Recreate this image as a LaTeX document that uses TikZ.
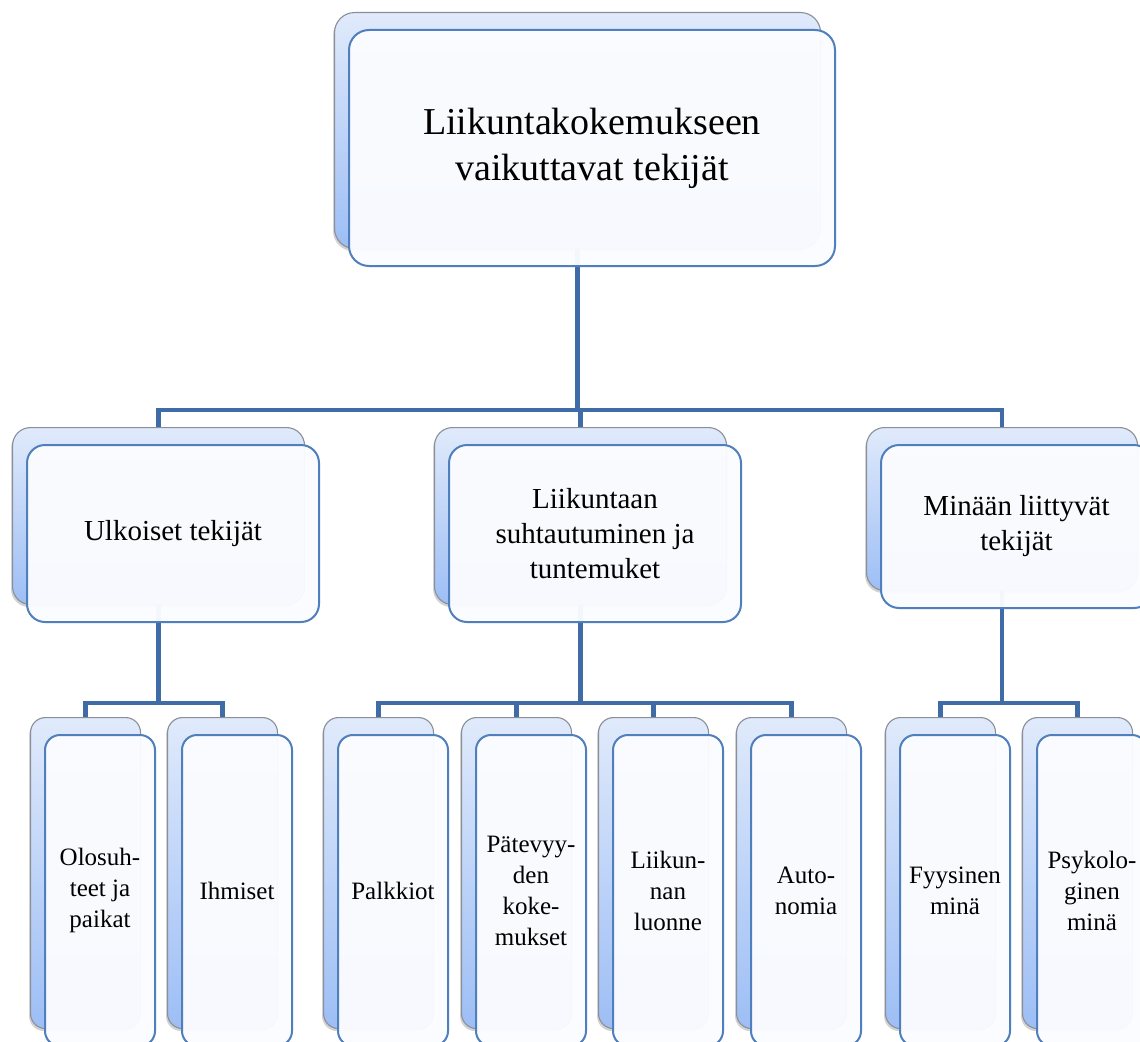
\documentclass[tikz,border=0pt]{standalone}
\usepackage{fontspec}
\setmainfont{Liberation Serif}
\usetikzlibrary{calc,shadows,backgrounds}

\definecolor{backtop}{HTML}{E0EAFB}
\definecolor{backbot}{HTML}{9DBEF5}
\definecolor{backline}{HTML}{8A8F98}
\definecolor{frontline}{HTML}{4F7FBC}
\definecolor{frontfill}{HTML}{FBFCFF}
\definecolor{connline}{HTML}{3F6CA6}

\tikzset{
  backbox/.style={draw=backline, line width=1.1pt, top color=backtop,
    bottom color=backbot, anchor=north west, inner sep=0pt,
    drop shadow={shadow xshift=-1.5pt, shadow yshift=-2.5pt, opacity=0.35}},
  frontbox/.style={draw=frontline, line width=2pt, fill=frontfill,
    fill opacity=0.96, text opacity=1, anchor=north west, align=center,
    inner sep=0pt},
  connector/.style={draw=connline, line width=4.4pt},
}

% name, x, y (top left of the back card), width, height, corner radius, font, text
\newcommand{\cardpair}[8]{%
  \node[backbox, rounded corners=#6, minimum width=#4, minimum height=#5] (#1-b) at (#2,#3) {};
  \node[frontbox, rounded corners=#6, minimum width=#4, minimum height=#5, font=#7]
    (#1) at ($(#1-b.north west)+(14,17)$) {#8};
}

\newcommand{\fnttop}{\fontsize{38}{46}\selectfont}
\newcommand{\fntmid}{\fontsize{29}{35}\selectfont}
\newcommand{\fntlow}{\fontsize{25}{31}\selectfont}

\begin{document}
\begin{tikzpicture}[x=1pt, y=-1pt]
  \useasboundingbox (0,0) rectangle (1140,1041);
  \clip (0,0) rectangle (1140,1041);

  % root
  \cardpair{root}{334}{12}{486pt}{236pt}{20pt}{\fnttop}{Liikuntakokemukseen\\vaikuttavat tekijät}

  % second level
  \cardpair{ulk}{12}{427}{292pt}{177pt}{18pt}{\fntmid}{Ulkoiset tekijät}
  \cardpair{suh}{434}{427}{292pt}{177pt}{18pt}{\fntmid}{Liikuntaan\\suhtautuminen ja\\tuntemuket}
  \cardpair{min}{866}{427}{271pt}{163pt}{18pt}{\fntmid}{Minään liittyvät\\tekijät}

  % third level
  \cardpair{olo}{30}{717}{110pt}{311pt}{15pt}{\fntlow}{Olosuh-\\teet ja\\paikat}
  \cardpair{ihm}{167}{717}{110pt}{311pt}{15pt}{\fntlow}{Ihmiset}
  \cardpair{pal}{323}{717}{110pt}{311pt}{15pt}{\fntlow}{Palkkiot}
  \cardpair{pat}{461}{717}{110pt}{311pt}{15pt}{\fntlow}{Pätevyy-\\den\\koke-\\mukset}
  \cardpair{lii}{598}{717}{110pt}{311pt}{15pt}{\fntlow}{Liikun-\\nan\\luonne}
  \cardpair{aut}{736}{717}{110pt}{311pt}{15pt}{\fntlow}{Auto-\\nomia}
  \cardpair{fyy}{885}{717}{110pt}{311pt}{15pt}{\fntlow}{Fyysinen\\minä}
  \cardpair{psy}{1022}{717}{110pt}{311pt}{15pt}{\fntlow}{Psykolo-\\ginen\\minä}

  % connectors, drawn behind the cards
  \coordinate (busA) at (0,410);
  \coordinate (busB) at (0,703);
  \begin{scope}[on background layer]
    \fill[white] (0,0) rectangle (1140,1041);
    \foreach \c in {ulk,suh,min}
      \draw[connector] (root-b.south) -- (root-b.south |- busA) -| (\c-b.north);
    \foreach \c in {olo,ihm}
      \draw[connector] (ulk-b.south) -- (ulk-b.south |- busB) -| (\c-b.north);
    \foreach \c in {pal,pat,lii,aut}
      \draw[connector] (suh-b.south) -- (suh-b.south |- busB) -| (\c-b.north);
    \foreach \c in {fyy,psy}
      \draw[connector] (min-b.south) -- (min-b.south |- busB) -| (\c-b.north);
  \end{scope}
\end{tikzpicture}
\end{document}
